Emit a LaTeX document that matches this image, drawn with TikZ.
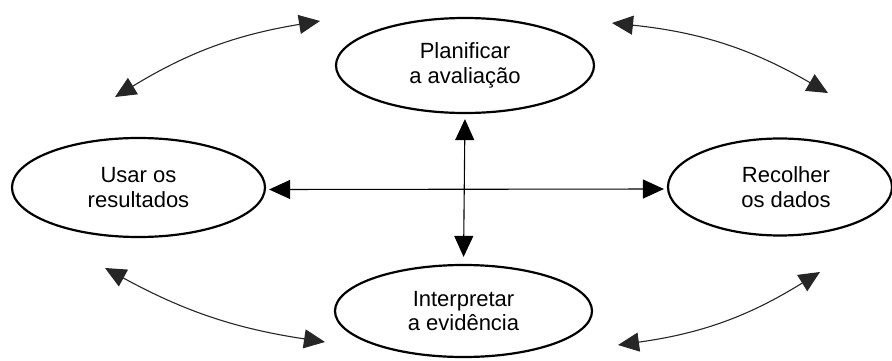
\documentclass[tikz,border=0pt]{standalone}
\usepackage{fontspec}
\setmainfont{Liberation Sans}
\usetikzlibrary{arrows.meta,shapes.geometric}
\begin{document}
\begin{tikzpicture}[x=1pt,y=1pt,
  phase/.style={draw=black, line width=2.2pt, ellipse, inner sep=0pt, align=center,
    font=\fontsize{22}{24.5}\selectfont},
  tipboth/.style={line width=1.1pt, {Triangle[length=21pt,width=19pt]}-{Triangle[length=21pt,width=19pt]}},
  cyc/.style={tipboth, draw=black!85}]
\useasboundingbox (0,0) rectangle (892,360);
\node[phase, minimum width=258pt, minimum height=95pt] (T) at (465,294.5) {Planificar\\a avaliação};
\node[phase, minimum width=253pt, minimum height=99pt] (L) at (138.5,172.5) {Usar os\\resultados};
\node[phase, minimum width=224pt, minimum height=97pt] (R) at (780,173) {\hspace*{12pt}Recolher\\\hspace*{12pt}os dados};
\node[phase, minimum width=257pt, minimum height=92pt] (B) at (463.5,49) {Interpretar\\a evidência};
% cross arrows
\draw[tipboth, shorten <=3pt, shorten >=3pt] ([yshift=-2pt]L.east) -- ([yshift=-2pt]R.west);
\draw[tipboth, shorten <=5pt, shorten >=7pt] (T.south) -- (B.north);
% cycle arrows
\coordinate (a1) at (115,263);
\coordinate (a2) at (320,339);
\coordinate (b1) at (612,337);
\coordinate (b2) at (828,267);
\coordinate (c1) at (105,92);
\coordinate (c2) at (325,18);
\coordinate (d1) at (618,15);
\coordinate (d2) at (820,88);
\draw[cyc] (a1) to[bend left=11] (a2);
\draw[cyc] (b1) to[bend left=12] (b2);
\draw[cyc] (c1) to[bend right=10] (c2);
\draw[cyc] (d1) to[bend right=12] (d2);
\end{tikzpicture}
\end{document}
